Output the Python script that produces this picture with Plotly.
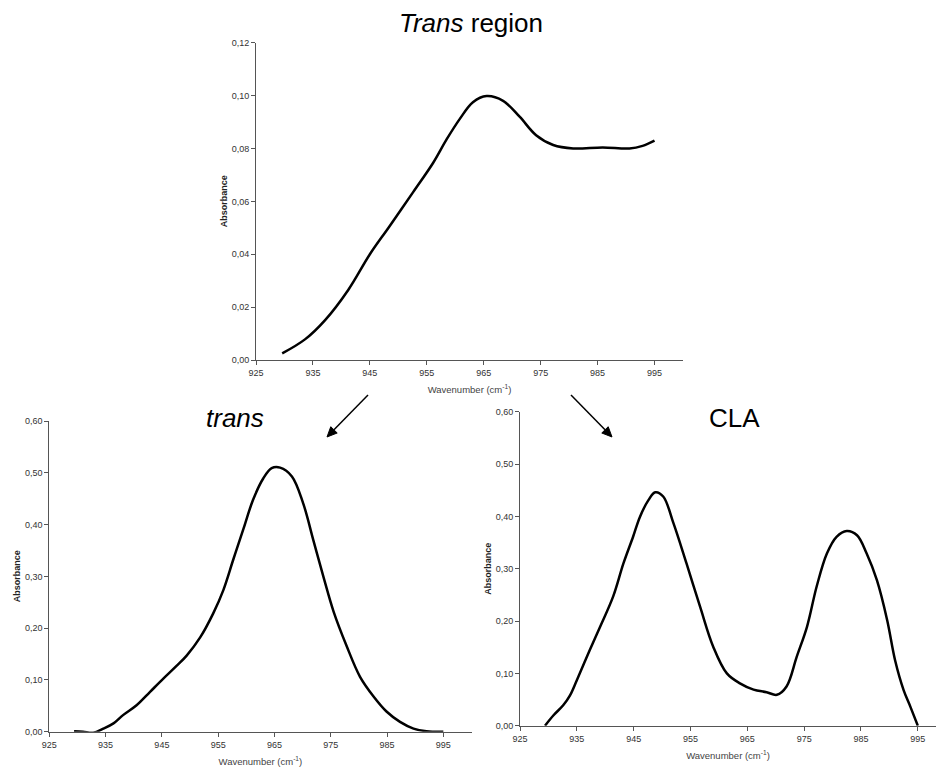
import math
import plotly.graph_objects as go

# Full trans region spectrum (930-995 cm-1)
region_wn = [929.6, 933.6, 937.1, 941.2, 945.0, 948.4, 952.6, 956.1, 958.5, 960.8,
             963.1, 965.5, 968.4, 971.3, 974.2, 977.2, 980.7, 985.9, 990.6, 992.9, 995.0]
region_abs = [0.0025, 0.0078, 0.015, 0.0265, 0.040, 0.0504, 0.0635, 0.0745, 0.0835, 0.0912,
              0.0975, 0.0998, 0.098, 0.092, 0.085, 0.0813, 0.080, 0.0804, 0.080, 0.081, 0.083]

# Isolated trans band
trans_wn = [929.4, 931.0, 932.8, 934.6, 936.4, 938.1, 940.5, 942.9, 945.3, 947.6, 949.4,
            951.8, 954.1, 955.9, 957.7, 959.5, 961.2, 963.0, 964.5, 966.0, 968.1, 970.1,
            971.9, 973.7, 975.5, 977.8, 980.2, 982.6, 984.9, 987.3, 989.7, 992.0, 995.0]
trans_abs = [0.001, 0.0, -0.002, 0.006, 0.016, 0.032, 0.051, 0.077, 0.103, 0.127, 0.147,
             0.182, 0.228, 0.273, 0.333, 0.392, 0.448, 0.489, 0.509, 0.510, 0.493, 0.441,
             0.370, 0.299, 0.232, 0.166, 0.106, 0.068, 0.039, 0.019, 0.006, 0.001, 0.0]

# Conjugated linoleic acid bands
cla_wn = [929.4, 930.9, 932.6, 933.8, 935.0, 937.3, 939.1, 941.4, 943.2, 944.9, 946.1,
          947.6, 948.8, 950.2, 952.0, 954.3, 956.7, 959.0, 961.4, 963.7, 966.1, 968.4,
          970.2, 971.9, 973.7, 975.5, 977.2, 979.0, 980.7, 982.5, 984.3, 986.0, 987.8,
          989.6, 991.0, 992.5, 993.7, 995.0]
cla_abs = [0.0, 0.020, 0.039, 0.058, 0.087, 0.145, 0.189, 0.247, 0.310, 0.361, 0.399,
           0.431, 0.446, 0.438, 0.387, 0.310, 0.227, 0.151, 0.100, 0.081, 0.069, 0.064,
           0.059, 0.075, 0.132, 0.189, 0.266, 0.329, 0.361, 0.372, 0.364, 0.329, 0.278,
           0.202, 0.125, 0.068, 0.036, 0.0]

W, H = 936, 770
FONT = "Liberation Sans, Arial, sans-serif"
LINE = dict(color="black", width=2.5, shape="spline", smoothing=1.0)

fig = go.Figure()
fig.add_trace(go.Scatter(x=region_wn, y=region_abs, mode="lines", xaxis="x", yaxis="y", line=LINE))
fig.add_trace(go.Scatter(x=trans_wn, y=trans_abs, mode="lines", xaxis="x2", yaxis="y2", line=LINE))
fig.add_trace(go.Scatter(x=cla_wn, y=cla_abs, mode="lines", xaxis="x3", yaxis="y3", line=LINE))


def px_x(p):
    return p / W


def px_y(p):
    return 1 - p / H


xcommon = dict(showgrid=False, zeroline=False, showline=True, linecolor="#555", linewidth=1,
               ticks="outside", ticklen=4, tickcolor="#555", tick0=925, dtick=10,
               automargin=False,
               tickfont=dict(family=FONT, size=9, color="#333"),
               title=dict(text="Wavenumber (cm<sup>-1</sup>)",
                          font=dict(family=FONT, size=9.5, color="#444"), standoff=9))
ycommon = dict(showgrid=False, zeroline=False, showline=True, linecolor="#555", linewidth=1,
               ticks="outside", ticklen=4, tickcolor="#555", tickformat=".2f",
               automargin=False,
               tickfont=dict(family=FONT, size=9, color="#333"),
               title=dict(text="<b>Absorbance</b>",
                          font=dict(family=FONT, size=9, color="#222"), standoff=2))

fig.update_layout(
    width=W, height=H,
    margin=dict(l=0, r=0, t=0, b=0, autoexpand=False),
    paper_bgcolor="white", plot_bgcolor="white",
    showlegend=False,
    separators=",.",
    xaxis=dict(xcommon, domain=[px_x(256), px_x(683)], range=[925, 1000], anchor="y"),
    yaxis=dict(ycommon, domain=[px_y(360), px_y(42.7)], range=[0, 0.12], dtick=0.02, anchor="x"),
    xaxis2=dict(xcommon, domain=[px_x(49.3), px_x(471.5)], range=[925, 1000], anchor="y2"),
    yaxis2=dict(ycommon, domain=[px_y(731.7), px_y(421)], range=[0, 0.6], dtick=0.1, anchor="x2"),
    xaxis3=dict(xcommon, domain=[px_x(520), 1.0], range=[925, 998.2], anchor="y3"),
    yaxis3=dict(ycommon, domain=[px_y(725.7), px_y(411.7)], range=[0, 0.6], dtick=0.1, anchor="x3"),
)

titles = [
    ("<i>Trans</i> region", 471, 23),
    ("<i>trans</i>", 235, 418),
    ("CLA", 734, 418),
]
for text, x, y in titles:
    fig.add_annotation(text=text, xref="paper", yref="paper", x=px_x(x), y=px_y(y),
                       xanchor="center", yanchor="middle", showarrow=False,
                       font=dict(family=FONT, size=26, color="black"))

# Arrows pointing from the region spectrum to its two components (shaft + filled head)
HEAD_LEN, HEAD_HALF = 10, 4.5
for (tx, ty), (hx, hy) in [((368, 395), (327, 437)), ((571, 395), (612, 437))]:
    dx, dy = hx - tx, hy - ty
    n = math.hypot(dx, dy)
    ux, uy = dx / n, dy / n
    bx, by = hx - ux * HEAD_LEN, hy - uy * HEAD_LEN
    fig.add_shape(type="line", xref="paper", yref="paper",
                  x0=px_x(tx), y0=px_y(ty), x1=px_x(bx), y1=px_y(by),
                  line=dict(color="black", width=1.5))
    p1 = (bx - uy * HEAD_HALF, by + ux * HEAD_HALF)
    p2 = (bx + uy * HEAD_HALF, by - ux * HEAD_HALF)
    path = "M {:.5f} {:.5f} L {:.5f} {:.5f} L {:.5f} {:.5f} Z".format(
        px_x(hx), px_y(hy), px_x(p1[0]), px_y(p1[1]), px_x(p2[0]), px_y(p2[1]))
    fig.add_shape(type="path", xref="paper", yref="paper", path=path,
                  fillcolor="black", line=dict(color="black", width=1))

fig.write_html("out.html")
